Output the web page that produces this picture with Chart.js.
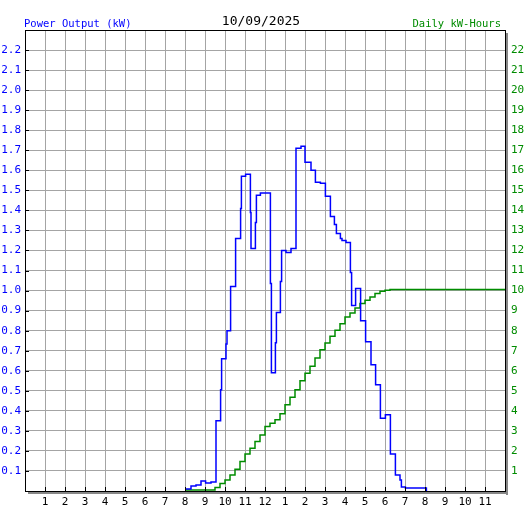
<!DOCTYPE html>
<html>
<head>
<meta charset="utf-8">
<title>Power Output 10/09/2025</title>
<script src="https://cdn.jsdelivr.net/npm/chart.js@4.4.0/dist/chart.umd.min.js"></script>
<style>
  body { margin: 0; background: #fff; }
  #solarChart { display: block; }
</style>
</head>
<body>
<canvas id="solarChart" width="527" height="510"></canvas>
<script>
// Texts of the chart
const chartDate = '10/09/2025';
const powerTitle = 'Power Output (kW)';
const energyTitle = 'Daily kW-Hours';

// Hour labels along the bottom, one per hour from 0 to 24
const hourLabels = ['', '1', '2', '3', '4', '5', '6', '7', '8', '9', '10', '11',
    '12', '1', '2', '3', '4', '5', '6', '7', '8', '9', '10', '11', ''];

// Power output: time of day (hours) where each step starts, and kW from then on
const powerHours = [8.0, 8.3, 8.55, 8.8, 9.03, 9.3, 9.55, 9.78, 9.83, 10.05,
    10.1, 10.28, 10.53, 10.78, 10.82, 11.03, 11.27, 11.3, 11.52, 11.57,
    11.77, 12.27, 12.32, 12.52, 12.57, 12.77, 12.83, 13.05, 13.3, 13.55,
    13.8, 14.0, 14.3, 14.52, 14.77, 15.02, 15.27, 15.47, 15.57, 15.77,
    15.85, 16.05, 16.27, 16.33, 16.53, 16.78, 17.03, 17.3, 17.53, 17.77,
    18.02, 18.27, 18.52, 18.75, 18.82, 19.02, 20.07];
const powerKw = [0.01, 0.025, 0.03, 0.05, 0.04, 0.045, 0.35, 0.505, 0.66, 0.733,
    0.80, 1.02, 1.26, 1.41, 1.57, 1.58, 1.39, 1.21, 1.34, 1.475,
    1.487, 1.035, 0.59, 0.74, 0.89, 1.045, 1.20, 1.19, 1.21, 1.71,
    1.72, 1.64, 1.60, 1.54, 1.535, 1.47, 1.37, 1.33, 1.285, 1.26,
    1.25, 1.24, 1.09, 0.925, 1.01, 0.85, 0.745, 0.63, 0.53, 0.363,
    0.38, 0.185, 0.08, 0.055, 0.02, 0.015, 0];

// Accumulated energy: time of day (hours) and kWh so far
const energyHours = [8.0, 9.5, 9.75, 10.0, 10.25, 10.5, 10.75, 11.0, 11.25, 11.5,
    11.75, 12.0, 12.25, 12.5, 12.75, 13.0, 13.25, 13.5, 13.75, 14.0,
    14.25, 14.5, 14.75, 15.0, 15.25, 15.5, 15.75, 16.0, 16.25, 16.5,
    16.75, 17.0, 17.25, 17.5, 17.75, 18.0, 18.25, 24];
const energyKwh = [0.05, 0.18, 0.38, 0.55, 0.8, 1.08, 1.47, 1.85, 2.13, 2.47,
    2.8, 3.22, 3.38, 3.55, 3.85, 4.3, 4.68, 5.05, 5.5, 5.88,
    6.22, 6.63, 7.05, 7.38, 7.72, 8.02, 8.35, 8.68, 8.88, 9.13,
    9.35, 9.52, 9.68, 9.85, 9.97, 10.02, 10.05, 10.05];

const BLUE = '#0000ff';
const GREEN = '#008c00';
const GRID = '#a4a4a4';
const MONO = '"DejaVu Sans Mono", monospace';

// Plugin drawing the header texts, the frame with its shadow and the inner tick marks
const framePlugin = {
    id: 'frame',
    afterDraw(chart) {
        const ctx = chart.ctx;
        const a = chart.chartArea;
        const x = chart.scales.x;
        const y = chart.scales.y;
        ctx.save();

        // small black ticks inside the frame
        ctx.strokeStyle = '#000';
        ctx.lineWidth = 1;
        ctx.beginPath();
        y.ticks.forEach(t => {
            const py = Math.round(y.getPixelForValue(t.value)) + 0.5;
            ctx.moveTo(a.left, py);
            ctx.lineTo(a.left + 4, py);
        });
        x.ticks.forEach(t => {
            const px = Math.round(x.getPixelForValue(t.value)) + 0.5;
            ctx.moveTo(px, a.bottom);
            ctx.lineTo(px, a.bottom - 4);
        });
        ctx.stroke();

        // grey shadow right and below
        ctx.fillStyle = '#888';
        ctx.fillRect(a.right + 1, a.top + 3, 2, a.bottom - a.top + 1);
        ctx.fillRect(a.left + 3, a.bottom + 1, a.right - a.left, 2);

        // black frame
        ctx.strokeStyle = '#000';
        ctx.strokeRect(a.left + 0.5, a.top + 0.5, a.right - a.left, a.bottom - a.top);
        ctx.beginPath();
        ctx.moveTo(a.left, a.bottom + 0.5);
        ctx.lineTo(a.right + 1, a.bottom + 0.5);
        ctx.stroke();

        // header texts
        ctx.textBaseline = 'alphabetic';
        ctx.font = '10.5px ' + MONO;
        ctx.fillStyle = BLUE;
        ctx.textAlign = 'left';
        ctx.fillText(powerTitle, 24, 27);
        ctx.fillStyle = GREEN;
        ctx.textAlign = 'right';
        ctx.fillText(energyTitle, 501, 27);
        ctx.font = '13px ' + MONO;
        ctx.fillStyle = '#000';
        ctx.textAlign = 'center';
        ctx.fillText(chartDate, 261, 25);
        ctx.restore();
    }
};

// Function to create the power / energy chart
function createSolarChart() {
    const powerPoints = powerHours.map((h, i) => ({ x: h, y: powerKw[i] }));
    const energyPoints = energyHours.map((h, i) => ({ x: h, y: energyKwh[i] }));

    const ctx = document.getElementById('solarChart').getContext('2d');
    new Chart(ctx, {
        type: 'line',
        data: {
            datasets: [{
                label: 'Power Output (kW)',
                data: powerPoints,
                yAxisID: 'y',
                borderColor: BLUE,
                borderWidth: 1.5,
                pointRadius: 0,
                stepped: true,
                order: 0
            },
            {
                label: 'Daily kW-Hours',
                data: energyPoints,
                yAxisID: 'yE',
                borderColor: GREEN,
                borderWidth: 1.5,
                pointRadius: 0,
                stepped: true,
                order: 1
            }]
        },
        options: {
            responsive: false,
            animation: false,
            devicePixelRatio: 1,
            layout: { padding: { top: 30 } },
            plugins: {
                legend: { display: false },
                tooltip: { enabled: false }
            },
            scales: {
                x: {
                    type: 'linear',
                    position: 'bottom',
                    min: 0,
                    max: 24,
                    grid: { color: GRID, drawTicks: false },
                    border: { display: false },
                    ticks: {
                        stepSize: 1,
                        autoSkip: false,
                        maxRotation: 0,
                        padding: 5,
                        color: '#000',
                        font: { family: MONO, size: 11 },
                        callback: value => hourLabels[value]
                    },
                    afterFit: scale => { scale.height = 19; }
                },
                y: {
                    position: 'left',
                    min: 0,
                    max: 2.3,
                    grid: { color: GRID, drawTicks: false },
                    border: { display: false },
                    ticks: {
                        stepSize: 0.1,
                        padding: 4,
                        color: BLUE,
                        font: { family: MONO, size: 11 },
                        callback: value => (value < 0.05 || value > 2.25) ? '' : value.toFixed(1)
                    },
                    afterFit: scale => { scale.width = 25; }
                },
                yE: {
                    position: 'right',
                    min: 0,
                    max: 23,
                    grid: { display: false, drawTicks: false },
                    border: { display: false },
                    ticks: {
                        stepSize: 1,
                        padding: 6,
                        color: GREEN,
                        font: { family: MONO, size: 11 },
                        callback: value => (value < 1 || value > 22) ? '' : String(value)
                    },
                    afterFit: scale => { scale.width = 22; }
                }
            }
        },
        plugins: [framePlugin]
    });
}

// Call the function to create the chart
createSolarChart();
</script>
</body>
</html>
